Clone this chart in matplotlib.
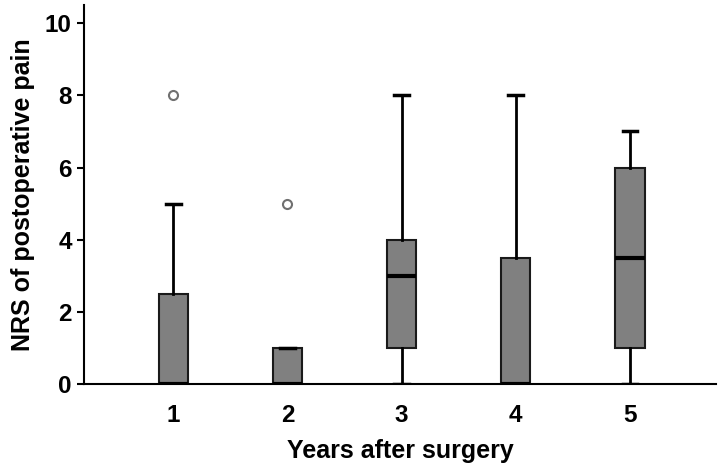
import matplotlib
matplotlib.use("Agg")
import matplotlib.pyplot as plt

plt.rcParams['font.family'] = ['Liberation Sans', 'DejaVu Sans']

years = [1, 2, 3, 4, 5]
whislo = [0, 0, 0, 0, 0]
q1 = [0, 0, 1, 0, 1]
med = [0, 0, 3, 0, 3.5]
q3 = [2.5, 1, 4, 3.5, 6]
whishi = [5, 1, 8, 8, 7]
outliers = [[8], [5], [], [], []]

stats = []
for i in range(len(years)):
    stats.append(dict(whislo=whislo[i], q1=q1[i], med=med[i], q3=q3[i],
                      whishi=whishi[i], fliers=outliers[i], label=str(years[i])))

fig = plt.figure(figsize=(7.2, 4.69), dpi=100)
ax = fig.add_axes([0.117, 0.181, 0.877, 0.808])

ax.bxp(stats, positions=years, widths=0.255, patch_artist=True, showfliers=True,
       boxprops=dict(facecolor='#808080', edgecolor='#1a1a1a', linewidth=1.5),
       medianprops=dict(color='black', linewidth=3),
       whiskerprops=dict(color='black', linewidth=2),
       capprops=dict(color='black', linewidth=2.5),
       capwidths=0.13,
       flierprops=dict(marker='o', markerfacecolor='white', markeredgecolor='#707070',
                       markersize=6.5, markeredgewidth=1.5))

ax.set_xlim(0.22, 5.75)
ax.set_ylim(0, 10.5)
ax.set_yticks([0, 2, 4, 6, 8, 10])
ax.spines['top'].set_visible(False)
ax.spines['right'].set_visible(False)
ax.spines['left'].set_linewidth(1.5)
ax.spines['bottom'].set_linewidth(1.5)
ax.tick_params(axis='y', direction='out', length=5, width=1.5, labelsize=17.5, pad=4)
ax.tick_params(axis='x', length=0, labelsize=17.5, pad=14)
for lab in ax.get_xticklabels() + ax.get_yticklabels():
    lab.set_fontweight('bold')

ax.set_ylabel('NRS of postoperative pain', fontsize=18, fontweight='bold', labelpad=7)
ax.set_xlabel('Years after surgery', fontsize=18, fontweight='bold', labelpad=9)

fig.savefig('out.png', dpi=100)
